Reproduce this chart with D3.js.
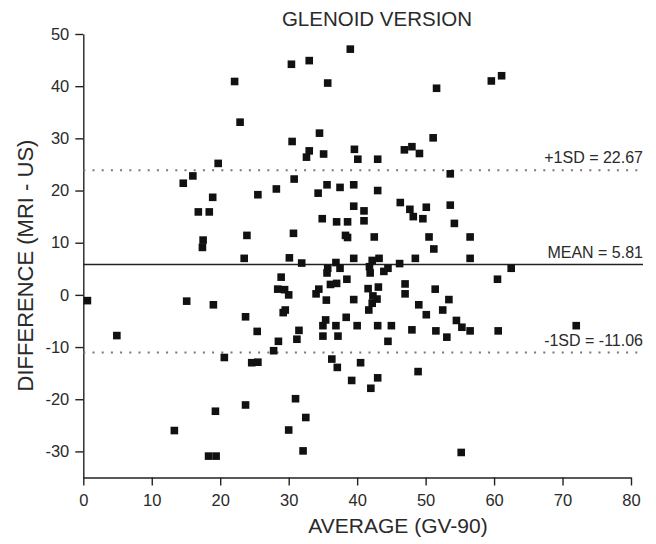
<!DOCTYPE html>
<html>
<head>
<meta charset="utf-8">
<script src="https://cdn.jsdelivr.net/npm/d3@7"></script>
<style>
  html, body { margin: 0; padding: 0; background: #fff; }
  svg { display: block; font-family: "Liberation Sans", Arial, sans-serif; }
</style>
</head>
<body>
<div id="chart"></div>
<script>
// Bland-Altman points: average (x) and difference (y)
var averages = [
  0.6, 4.9, 13.3, 14.6, 15.1, 16.0, 16.8, 17.4, 17.5, 18.4,
  18.9, 18.3, 19.4, 19.0, 19.3, 19.7, 20.6, 22.1, 22.9, 23.5,
  23.7, 23.7, 23.9, 24.6, 25.5, 25.4, 25.5, 27.8, 28.2, 28.5,
  28.4, 28.9, 29.4, 29.2, 29.5, 30.0, 30.0, 30.1, 30.4, 30.5,
  30.7, 30.8, 31.0, 31.2, 31.5, 31.9, 32.1, 32.5, 32.6, 33.0,
  33.0, 34.0, 34.3, 34.4, 34.5, 34.9, 35.0, 35.0, 35.1, 35.4,
  35.5, 35.6, 35.6, 35.7, 35.7, 36.1, 36.3, 36.9, 36.9, 37.0,
  37.0, 37.1, 37.2, 37.5, 37.5, 38.4, 38.5, 38.3, 38.6, 38.6,
  39.0, 39.2, 39.5, 39.5, 39.5, 39.5, 39.6, 40.0, 40.1, 40.5,
  41.0, 41.0, 41.6, 41.7, 41.8, 41.9, 42.0, 42.2, 42.2, 42.3,
  42.5, 42.9, 43.0, 43.0, 43.0, 43.0, 43.1, 43.2, 43.9, 44.5,
  44.5, 45.0, 46.2, 46.3, 46.9, 47.0, 47.0, 47.7, 48.0, 48.0,
  48.2, 48.5, 48.9, 49.0, 49.1, 49.6, 50.1, 50.1, 50.5, 51.1,
  51.2, 51.4, 51.5, 51.6, 52.5, 53.1, 53.4, 53.6, 53.6, 54.2,
  54.5, 55.2, 55.3, 56.5, 56.5, 56.5, 59.6, 60.5, 60.6, 61.1,
  62.5, 72.0
];
var differences = [
  -1.1, -7.8, -26.0, 21.4, -1.2, 22.8, 15.9, 9.1, 10.5, 15.9,
  18.7, -30.9, -30.9, -1.9, -22.3, 25.2, -12.0, 40.9, 33.1, 7.0,
  -4.2, -21.1, 11.4, -13.0, -12.9, -7.0, 19.2, -10.7, 20.3, -8.9,
  1.1, 3.4, 1.0, -3.4, -2.9, 0.0, -25.9, 7.1, 44.2, 29.4,
  11.8, 22.2, -19.9, -8.5, -6.8, 6.1, -29.9, -23.5, 26.4, 27.6,
  44.9, 0.2, 19.5, 1.1, 31.0, 14.6, -5.9, -7.9, 27.0, -4.8,
  -1.0, 4.2, 21.1, 5.1, 40.6, 2.0, -12.3, 6.2, -5.9, 2.2,
  14.0, -13.9, -7.9, 5.1, 20.6, -4.3, 3.0, 11.4, 11.0, 14.0,
  47.1, -16.4, 7.0, -0.9, 17.0, 21.1, 27.9, -5.9, 26.0, -13.0,
  16.1, 14.2, 1.2, -2.9, 5.4, 4.2, -17.9, -1.6, 6.6, -0.2,
  11.1, -0.8, 26.0, 20.0, -5.9, -15.9, 1.5, 7.0, 4.5, 5.1,
  -8.9, -5.9, 6.0, 17.7, 27.8, 2.1, 0.2, 16.4, 28.4, -6.7,
  15.0, 7.0, -14.7, -1.9, 27.1, 14.6, -3.8, 16.8, 11.1, 30.1,
  8.8, 1.1, -6.9, 39.6, -2.9, -8.1, -0.9, 23.2, 17.2, 13.7,
  -4.9, -30.2, -6.2, -6.9, 11.1, 7.0, 41.0, 3.0, -6.9, 42.0,
  5.1, -5.9
];

var xTicks = [0, 10, 20, 30, 40, 50, 60, 70, 80];
var yTicks = [-30, -20, -10, 0, 10, 20, 30, 40, 50];

// reference lines (value = where the line sits in the figure)
var refLabels = ["+1SD = 22.67", "MEAN = 5.81", "-1SD = -11.06"];
var refValues = [23.9, 5.81, -11.06];
var refDotted = [true, false, true];

var width = 656;
var height = 544;
var plotLeft = 83.3, plotRight = 631, plotTop = 34, plotBottom = 477.5;
var lineEnd = 643;

var svg = d3.select("#chart").append("svg")
  .attr("width", width)
  .attr("height", height);

svg.append("rect").attr("width", width).attr("height", height).attr("fill", "#fff");

var scaleX = d3.scaleLinear().domain([0, 80]).range([plotLeft, plotRight]);
var scaleY = d3.scaleLinear().domain([-35, 50]).range([plotBottom, plotTop]);

// plain hyphen for negatives, like the figure
var fmt = function(d) { return String(d); };

// axes
var gx = svg.append("g")
  .attr("transform", "translate(0," + plotBottom + ")")
  .call(d3.axisBottom(scaleX).tickValues(xTicks).tickFormat(fmt)
    .tickSize(8).tickSizeOuter(0).tickPadding(9));

var gy = svg.append("g")
  .attr("transform", "translate(" + plotLeft + ",0)")
  .call(d3.axisLeft(scaleY).tickValues(yTicks).tickFormat(fmt)
    .tickSize(8).tickSizeOuter(0).tickPadding(6));

[gx, gy].forEach(function(g) {
  g.select(".domain").attr("stroke", "#222").attr("stroke-width", 1.4);
  g.selectAll(".tick line").attr("stroke", "#222").attr("stroke-width", 1.4);
  g.selectAll(".tick text")
    .attr("fill", "#2a2a2a")
    .style("font-size", "16.5px")
    .style("font-family", "\"Liberation Sans\", Arial, sans-serif");
});

// reference lines
refValues.forEach(function(v, i) {
  svg.append("line")
    .attr("x1", plotLeft)
    .attr("x2", lineEnd)
    .attr("y1", scaleY(v))
    .attr("y2", scaleY(v))
    .attr("stroke", refDotted[i] ? "#777" : "#222")
    .attr("stroke-width", refDotted[i] ? 2 : 1.4)
    .attr("stroke-dasharray", refDotted[i] ? "2,7.2" : null);

  svg.append("text")
    .attr("x", lineEnd)
    .attr("y", scaleY(v) - 7)
    .attr("text-anchor", "end")
    .attr("fill", "#2a2a2a")
    .style("font-size", "16px")
    .text(refLabels[i]);
});

// points
var size = 7.6;
svg.append("g")
  .selectAll("rect")
  .data(averages)
  .enter()
  .append("rect")
  .attr("x", function(d) { return scaleX(d) - size / 2; })
  .attr("y", function(d, i) { return scaleY(differences[i]) - size / 2; })
  .attr("width", size)
  .attr("height", size)
  .attr("fill", "#111");

// titles
svg.append("text")
  .attr("x", 377)
  .attr("y", 25.5)
  .attr("text-anchor", "middle")
  .attr("fill", "#2a2a2a")
  .style("font-size", "20.5px")
  .text("GLENOID VERSION");

svg.append("text")
  .attr("x", 398)
  .attr("y", 533)
  .attr("text-anchor", "middle")
  .attr("fill", "#2a2a2a")
  .style("font-size", "21px")
  .text("AVERAGE (GV-90)");

svg.append("text")
  .attr("transform", "translate(33," + 265.5 + ") rotate(-90)")
  .attr("text-anchor", "middle")
  .attr("fill", "#2a2a2a")
  .style("font-size", "22px")
  .text("DIFFERENCE (MRI - US)");
</script>
</body>
</html>
